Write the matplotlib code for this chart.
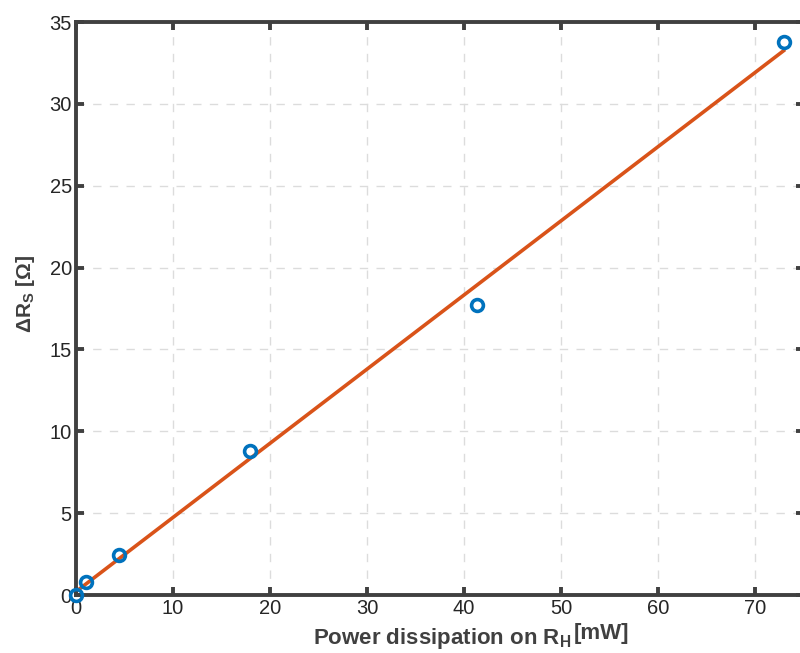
import numpy as np
import matplotlib.pyplot as plt

plt.rcParams['font.family'] = ['Liberation Sans', 'DejaVu Sans']
plt.rcParams['mathtext.fontset'] = 'custom'
plt.rcParams['mathtext.rm'] = 'Liberation Sans'
plt.rcParams['mathtext.bf'] = 'Liberation Sans:bold'

# measured points
power_mw = [0.0, 1.0, 4.4, 17.9, 41.3, 72.95]
delta_rs = [0.0, 0.8, 2.45, 8.8, 17.7, 33.8]

x_ticks = [0, 10, 20, 30, 40, 50, 60, 70]
y_ticks = [0, 5, 10, 15, 20, 25, 30, 35]

# linear fit
slope, icpt = np.polyfit(power_mw, delta_rs, 1)
fit_x = np.array([0.0, power_mw[-1]])
fit_y = slope * fit_x + icpt

fig = plt.figure(figsize=(8, 6.53), dpi=100)
ax = fig.add_axes([0.095, 0.0888, 0.9094, 0.8775])

ax.plot(power_mw, delta_rs, 'o', mfc='none', mec='#0072BD', mew=2.6, ms=8.5,
        zorder=3, clip_on=False)
ax.plot(fit_x, fit_y, '-', color='#D95319', lw=2.6, zorder=2, clip_on=False)

ax.set_xlim(0, 75)
ax.set_ylim(0, 35)
ax.set_xticks(x_ticks)
ax.set_yticks(y_ticks)
ax.grid(True, ls=(0, (6, 6)), color='#dcdcdc', lw=1.0)
ax.set_axisbelow(True)

for s in ax.spines.values():
    s.set_color('#404040')
    s.set_linewidth(2.8)
ax.tick_params(direction='in', length=6, width=2.8, color='#404040',
               labelsize=14.5, labelcolor='#262626', top=True, right=True, pad=3)

# y label
ax.set_ylabel(r'$\mathregular{\Delta}$R$_\mathregular{S}$ [Ω]', fontsize=15,
              fontweight='bold', color='#404040')
ax.yaxis.set_label_coords(-0.053, 0.525)

# x label, with raised unit
t = fig.text(0.391, 0.014, r'Power dissipation on R$_\mathregular{H}$', fontsize=16,
             fontweight='bold', color='#404040', va='baseline', ha='left')
ax.annotate('[mW]', xy=(1, 0), xycoords=t, xytext=(2, 5), textcoords='offset points',
            fontsize=16, fontweight='bold', color='#404040', va='bottom', ha='left',
            annotation_clip=False)

fig.savefig('out.png', dpi=100)
